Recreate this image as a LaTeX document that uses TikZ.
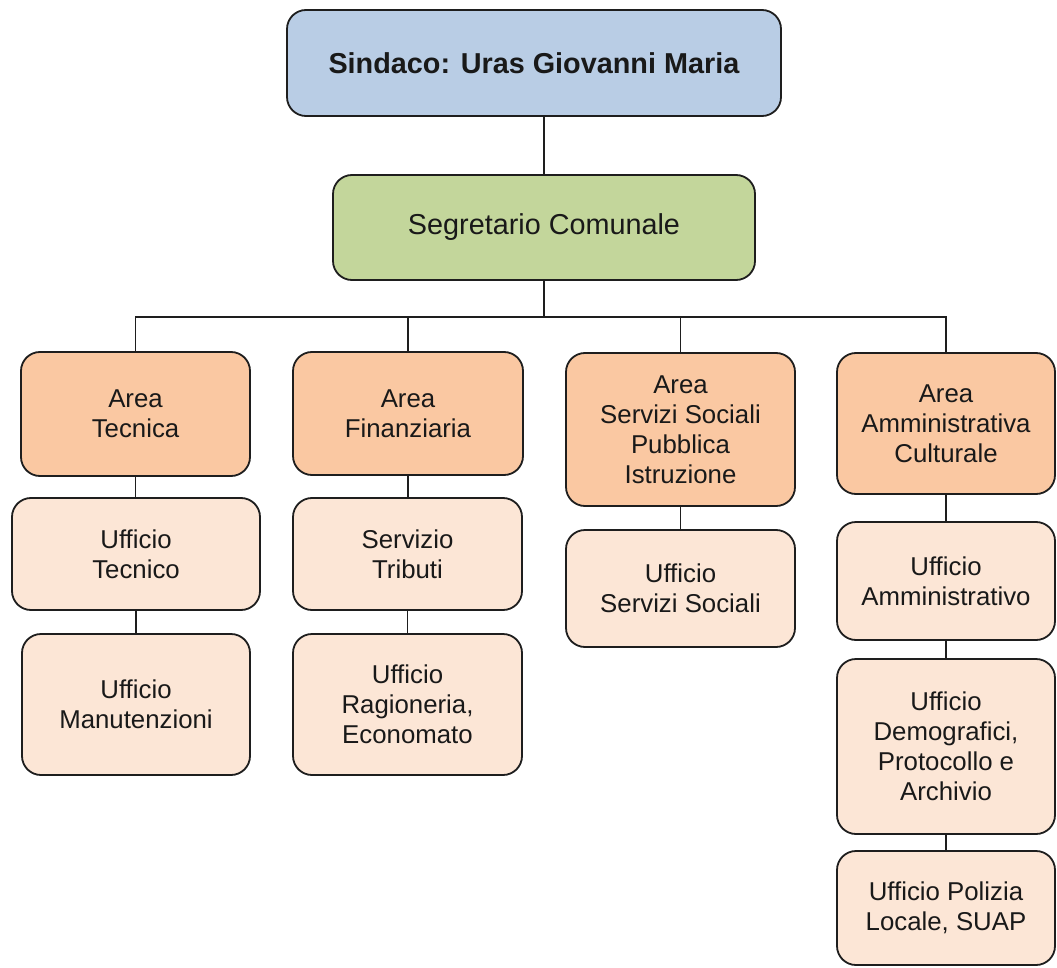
\documentclass[tikz,border=0pt]{standalone}
\usepackage{fontspec}
\setmainfont{Liberation Sans}
\definecolor{sindacofill}{HTML}{B9CDE5}
\definecolor{segrfill}{HTML}{C3D69B}
\definecolor{areafill}{HTML}{FAC8A2}
\definecolor{uffill}{HTML}{FCE6D6}
\definecolor{edgecol}{HTML}{1E1E1E}
\begin{document}
\begin{tikzpicture}[x=1pt,y=-1pt,
  box/.style={draw=edgecol, line width=1.8pt, rounded corners=19pt, inner sep=0pt,
    align=center, text=black!90, font=\fontsize{25.8}{30}\selectfont},
  topbox/.style={box, font=\fontsize{28.8}{33}\selectfont},
  areabox/.style={box, fill=areafill},
  ufbox/.style={box, fill=uffill},
  link/.style={draw=edgecol, line width=1.8pt}]
\useasboundingbox (0,0) rectangle (1057,968);
\fill[white] (0,0) rectangle (1057,968);

\node[topbox, fill=sindacofill, minimum width=494pt, minimum height=106pt] (sind) at (534,63) {\textbf{Sindaco: Uras Giovanni Maria}};
\node[topbox, fill=segrfill, minimum width=422pt, minimum height=105pt] (segr) at (544,227.5) {Segretario Comunale};

\node[areabox, minimum width=229pt, minimum height=124pt] (aT) at (135.5,414) {Area\\Tecnica};
\node[areabox, minimum width=230pt, minimum height=123pt] (aF) at (408,413.5) {Area\\Finanziaria};
\node[areabox, minimum width=229pt, minimum height=153pt] (aS) at (680.5,429.5) {Area\\Servizi Sociali\\Pubblica\\Istruzione};
\node[areabox, minimum width=218pt, minimum height=141pt] (aA) at (946,423.5) {Area\\Amministrativa\\Culturale};

\node[ufbox, minimum width=248pt, minimum height=112pt] (uT) at (136,554) {Ufficio\\Tecnico};
\node[ufbox, minimum width=228pt, minimum height=141pt] (uM) at (136,704.5) {Ufficio\\Manutenzioni};
\node[ufbox, minimum width=229pt, minimum height=112pt] (sTr) at (407.5,554) {Servizio\\Tributi};
\node[ufbox, minimum width=229pt, minimum height=141pt] (uR) at (407.5,704.5) {Ufficio\\Ragioneria,\\Economato};
\node[ufbox, minimum width=229pt, minimum height=117pt] (uSS) at (680.5,588.5) {Ufficio\\Servizi Sociali};
\node[ufbox, minimum width=218pt, minimum height=118pt] (uAm) at (946,581) {Ufficio\\Amministrativo};
\node[ufbox, minimum width=218pt, minimum height=175pt] (uDe) at (946,746.5) {Ufficio\\Demografici,\\Protocollo e\\Archivio};
\node[ufbox, minimum width=218pt, minimum height=114pt] (uPo) at (946,908) {Ufficio Polizia\\Locale, SUAP};

\coordinate (bar) at (544,317);
\path[link] (segr.north) -- (segr.north |- sind.south);
\path[link] (segr.south) -- (bar);
\path[link] (aT.north) |- (bar) -| (aA.north);
\path[link] (aF.north) -- (aF.north |- bar);
\path[link] (aS.north) -- (aS.north |- bar);

\path[link] (aT.south) -- (aT.south |- uT.north);
\path[link] (uT.south) -- (uT.south |- uM.north);
\path[link] (aF.south) -- (aF.south |- sTr.north);
\path[link] (sTr.south) -- (sTr.south |- uR.north);
\path[link] (aS.south) -- (aS.south |- uSS.north);
\path[link] (aA.south) -- (aA.south |- uAm.north);
\path[link] (uAm.south) -- (uAm.south |- uDe.north);
\path[link] (uDe.south) -- (uDe.south |- uPo.north);
\end{tikzpicture}
\end{document}
